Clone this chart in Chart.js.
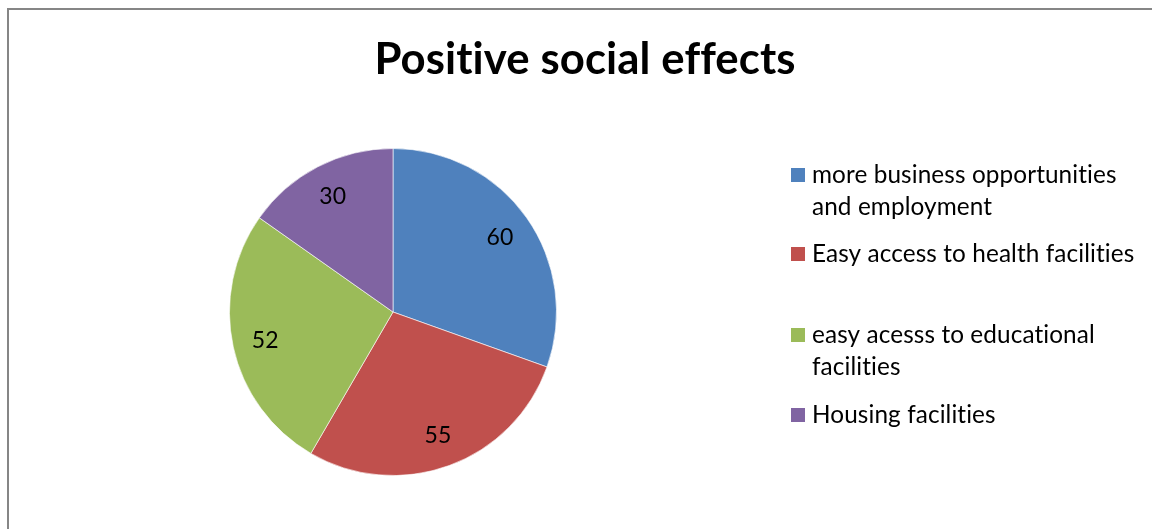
<!DOCTYPE html>
<html>
<head>
<meta charset="utf-8">
<script src="https://cdn.jsdelivr.net/npm/chart.js@4.4.1/dist/chart.umd.min.js"></script>
<style>
  html, body { margin: 0; padding: 0; background: #fff; overflow: hidden; }
  .wrap { position: relative; width: 1152px; height: 529px; }
  .frame { position: absolute; left: 7px; top: 8px; width: 1200px; height: 600px;
           border-top: 2px solid #868686; border-left: 2px solid #868686; }
  canvas { position: absolute; left: 0; top: 0; }
</style>
</head>
<body>
<div class="wrap">
  <div class="frame"></div>
  <canvas id="socialChart" width="1152" height="529"></canvas>
</div>
<script>
// Chart data
const chartTitle = 'Positive social effects';
const categories = [
    'more business opportunities and employment',
    'Easy access to health facilities',
    'easy acesss to educational facilities',
    'Housing facilities'
];
const values = [60, 55, 52, 30];
const sliceColors = ['#4F81BD', '#C0504D', '#9BBB59', '#8064A2'];

const FONT = 'Lato, "Open Sans", sans-serif';

// fit a font size so the text spans the wanted width
function fitFont(ctx, text, weight, targetWidth) {
    ctx.font = weight + ' 100px ' + FONT;
    const w = ctx.measureText(text).width;
    return 100 * targetWidth / w;
}

function wrapText(ctx, text, maxWidth) {
    const words = text.split(' ');
    const lines = [];
    let line = '';
    words.forEach(word => {
        const test = line ? line + ' ' + word : word;
        if (ctx.measureText(test).width > maxWidth && line) {
            lines.push(line);
            line = word;
        } else {
            line = test;
        }
    });
    if (line) lines.push(line);
    return lines;
}

// Title, data labels and legend drawn onto the canvas
const decorPlugin = {
    id: 'decor',
    afterDraw(chart) {
        const ctx = chart.ctx;
        ctx.save();
        // tiny spacing switches off Lato's "ti"/"ff" ligatures
        if ('letterSpacing' in ctx) ctx.letterSpacing = '0.1px';

        // Title
        const titleSize = fitFont(ctx, chartTitle, 'bold', 420);
        ctx.font = 'bold ' + titleSize + 'px ' + FONT;
        ctx.fillStyle = '#000';
        ctx.textAlign = 'center';
        ctx.textBaseline = 'alphabetic';
        ctx.fillText(chartTitle, 585, 74);

        // Data labels at 80% of the radius
        const meta = chart.getDatasetMeta(0);
        ctx.font = '23px ' + FONT;
        ctx.textAlign = 'center';
        ctx.textBaseline = 'middle';
        meta.data.forEach((arc, i) => {
            const p = arc.getProps(['x', 'y', 'startAngle', 'endAngle', 'outerRadius']);
            const mid = (p.startAngle + p.endAngle) / 2;
            const r = p.outerRadius * 0.8;
            ctx.fillText(String(values[i]), p.x + Math.cos(mid) * r, p.y + Math.sin(mid) * r + 1);
        });

        // Legend
        const legendSize = fitFont(ctx, categories[1], 'normal', 320);
        ctx.font = legendSize + 'px ' + FONT;
        ctx.textAlign = 'left';
        const tops = [175, 254, 335, 415];
        categories.forEach((cat, i) => {
            ctx.fillStyle = sliceColors[i];
            ctx.fillRect(791, tops[i] - 7, 14, 14);
            ctx.fillStyle = '#000';
            wrapText(ctx, cat, 326).forEach((ln, j) => {
                ctx.fillText(ln, 812, tops[i] + j * 32);
            });
        });

        ctx.restore();
    }
};

const canvas = document.getElementById('socialChart');
new Chart(canvas, {
    type: 'pie',
    data: {
        labels: categories,
        datasets: [{
            data: values,
            backgroundColor: sliceColors,
            borderColor: 'rgba(255,255,255,0.6)',
            borderWidth: 1
        }]
    },
    options: {
        responsive: false,
        devicePixelRatio: 1,
        animation: false,
        layout: {
            padding: { left: 229, right: 595, top: 148, bottom: 53 }
        },
        plugins: {
            legend: { display: false },
            title: { display: false },
            tooltip: { enabled: false }
        }
    },
    plugins: [decorPlugin]
});
</script>
</body>
</html>
